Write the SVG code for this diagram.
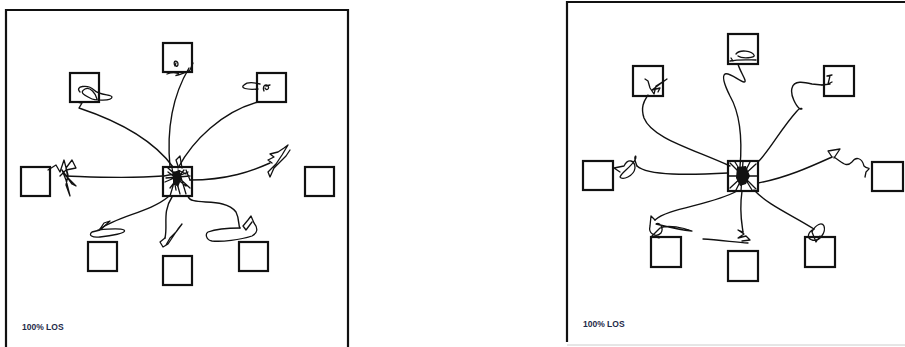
<svg xmlns="http://www.w3.org/2000/svg" width="905" height="347" viewBox="0 0 905 347">
<defs>
<style>
.frame{fill:none;stroke:#111;stroke-width:2.2}
.box{fill:none;stroke:#111;stroke-width:2.2}
.c{fill:none;stroke:#111;stroke-width:1.4;stroke-linecap:round;stroke-linejoin:round}
.s{fill:none;stroke:#111;stroke-width:1.3;stroke-linecap:round;stroke-linejoin:round}
.lbl{font-family:"Liberation Sans",Arial,sans-serif;font-size:8.5px;font-weight:bold;fill:#1e2a48}
</style>
</defs>
<rect width="905" height="347" fill="#fff"/>
<!-- LEFT PANEL -->
<g id="panel-left">
<path class="frame" d="M6,349 V10 H348 V349"/>
<text class="lbl" x="22" y="330">100% LOS</text>
</g>
<g id="L-top"><rect class="box" x="163" y="43" width="29" height="29"/><path class="s" d="M175,66 C172,60 178,60 178,64 C178,68 174,66 176,63 M167,74 C175,71 182,74 177,75 C172,77 186,73 190,70 L193,63"/></g>
<g id="L-ul"><rect class="box" x="70" y="73" width="29" height="29"/><path class="s" d="M80,92 C74,86 88,84 94,90 C100,96 112,94 112,97 C112,101 95,101 90,98 C82,94 80,92 85,89 C90,86 96,94 97,99"/></g>
<g id="L-ur"><rect class="box" x="257" y="73" width="29" height="29"/><path class="s" d="M258,89 C246,90 240,88 244,85 C248,81 256,83 260,84 M264,91 C262,86 266,83 268,86 C270,89 266,91 265,88 M266,86 L270,85"/></g>
<g id="L-left"><rect class="box" x="21" y="167" width="29" height="29"/></g>
<g id="L-center"><rect class="box" x="163" y="167" width="29" height="29"/></g>
<g id="L-right"><rect class="box" x="305" y="167" width="29" height="29"/></g>
<g id="L-bl"><rect class="box" x="88" y="242" width="29" height="29"/></g>
<g id="L-bc"><rect class="box" x="163" y="256" width="29" height="29"/></g>
<g id="L-br"><rect class="box" x="239" y="242" width="29" height="29"/></g>
<g id="L-connectors">
<path class="c" d="M170,167 C167,135 170,100 189,68"/>
<path class="c" d="M173,167 C152,138 115,120 79,108 L82,103 L77,102"/>
<path class="c" d="M178,168 C193,140 222,112 258,102"/>
<path class="c" d="M163,176 C125,179 95,177 66,176"/>
<path class="c" d="M190,180 C228,180 252,171 270,163"/>
<path class="c" d="M168,197 C150,212 118,216 100,229"/>
<path class="c" d="M172,197 C162,212 168,225 165,238"/>
<path class="c" d="M188,196 C190,207 224,196 236,212 C240,220 238,226 240,228"/>
<!-- scribbles -->
<path class="s" d="M48,170 L56,165 L60,172 L64,160 L68,175 L66,185 L70,196 L66,180 L62,170 L72,184 L76,186 L68,178 L66,168 L72,160 L76,168 L66,170 L60,176"/>
<path class="s" d="M272,163 L268,160 L274,157 L270,154 L278,152 L284,148 L288,145 L282,155 L276,164 L268,172 L270,177 L274,168 L286,156 L290,150"/>
<path class="s" d="M100,229 L104,223 L110,221 L100,230 L92,232 C88,235 92,238 100,237 C110,236 128,233 124,230 C120,228 108,229 98,230"/>
<path class="s" d="M165,238 L160,242 L163,247 L168,244 L172,238 L178,229 L182,224 L176,232 L170,238 L166,245"/>
<path class="s" d="M240,228 C232,228 216,229 208,232 C205,234 206,240 212,241 C222,242 240,240 252,236 C258,233 258,228 254,223 L251,216 L248,220 L243,226 L246,230 L252,222"/>
<!-- center hub scribble -->
<path class="s" d="M172,168 L176,190 M168,172 L186,186 M166,178 L190,176 M170,188 L184,170 M178,166 L176,160 L180,156 L182,168 M174,172 L180,194 M165,182 L188,172 M176,176 L170,196 M180,174 L186,194 M168,168 L190,188 M178,170 L186,174 M164,176 L174,174 M186,170 L190,180"/>
<path d="M173,172 L180,170 L181,180 L178,187 L173,183 Z" fill="#111"/>
</g>
<!-- RIGHT PANEL -->
<g id="panel-right">
<path class="frame" d="M567,342 V2 H906"/>
<path d="M567,345 H905" stroke="#ccc" stroke-width="1" fill="none"/>
<text class="lbl" x="583" y="327">100% LOS</text>
</g>
<g id="R-top"><rect class="box" x="728" y="34" width="30" height="30"/><path class="s" d="M736,54 C740,49 752,51 754,55 C756,58 742,59 738,56 M730,61 C740,59 750,60 756,60 M731,58 L733,61"/></g>
<g id="R-ul"><rect class="box" x="633" y="66" width="30" height="30"/><path class="s" d="M645,79 L648,81 L650,88 L654,94 L656,86 L664,81 L667,79 L660,84 L652,90 L660,88 L658,92"/></g>
<g id="R-ur"><rect class="box" x="824" y="66" width="30" height="30"/><path class="s" d="M827,76 L832,75 M830,76 L828,84 L832,82 M822,85 L830,84"/></g>
<g id="R-left"><rect class="box" x="583" y="161" width="30" height="29"/></g>
<g id="R-center"><rect class="box" x="728" y="161" width="30" height="30"/></g>
<g id="R-right"><rect class="box" x="872" y="162" width="31" height="29"/></g>
<g id="R-bl"><rect class="box" x="651" y="237" width="30" height="30"/></g>
<g id="R-bc"><rect class="box" x="728" y="251" width="30" height="30"/></g>
<g id="R-br"><rect class="box" x="805" y="237" width="30" height="30"/></g>
<g id="R-connectors">
<path class="c" d="M740,167 C743,132 738,110 730,96 C724,84 722,76 725,74 C730,72 740,82 744,82 C748,82 740,72 738,64"/>
<path class="c" d="M730,166 C690,148 652,138 644,118 C640,106 645,100 648,95"/>
<path class="c" d="M758,162 C770,150 780,130 797,111 C801,106 804,110 800,109 C796,106 790,95 792,88 C794,80 804,82 812,84 L822,85"/>
<path class="c" d="M728,173 C690,175 648,176 637,166"/>
<path class="c" d="M758,183 C786,178 812,166 832,157"/>
<path class="c" d="M737,191 C712,205 668,208 655,220"/>
<path class="c" d="M742,191 C739,212 742,224 743,232"/>
<path class="c" d="M754,190 C768,205 792,215 814,229"/>
<!-- scribbles -->
<path class="s" d="M637,166 C632,154 638,154 635,160 C630,168 622,172 620,177 C622,181 634,176 635,168 C635,160 628,158 624,166 L614,168 L620,172"/>
<path class="s" d="M832,157 L828,151 L840,149 L834,158 M834,157 C842,162 846,168 852,162 C856,156 862,158 864,166 C868,170 872,166 866,172 L865,177"/>
<path class="s" d="M655,220 L651,216 L650,226 C648,234 656,238 661,233 C664,228 660,222 656,224 C664,226 680,230 692,231 C684,228 668,224 660,228 L652,236 L659,238"/>
<path class="s" d="M703,239 C718,240 735,242 748,243 M743,232 L738,230 L744,234 L738,238 L746,236 L750,240 L742,241"/>
<path class="s" d="M814,229 C808,232 806,238 812,240 C820,242 826,232 824,226 C822,222 816,224 812,232 L816,242 L820,236"/>
<!-- center hub scribble -->
<path class="s" d="M730,163 L756,189 M730,188 L756,164 M728,176 L758,176 M743,161 L741,191 M735,162 L752,190 M750,162 L736,190"/>
<path d="M737,167 L746,166 L750,176 L746,184 L740,186 L736,178 Z" fill="#111"/>
</g>
</svg>
